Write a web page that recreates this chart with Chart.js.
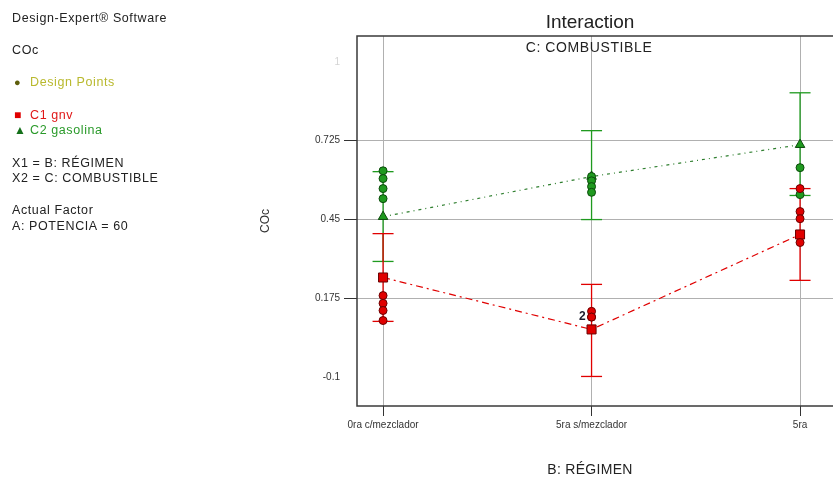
<!DOCTYPE html>
<html lang="es">
<head>
<meta charset="utf-8">
<title>Interaction</title>
<script src="https://cdn.jsdelivr.net/npm/chart.js@4.4.0/dist/chart.umd.min.js"></script>
<style>
  body { margin: 0; background: #fff; font-family: "Liberation Sans", Arial, sans-serif; }
  #marco { position: relative; width: 833px; height: 483px; overflow: hidden; }
  #grafico { position: absolute; left: 0; top: 0; }
  .txt { position: absolute; white-space: nowrap; font-size: 12.5px; letter-spacing: 0.6px; color: #222; line-height: 14px; }
  .centro { transform: translateX(-50%); }
  .sim { display: inline-block; width: 16px; letter-spacing: 0; }
</style>
</head>
<body>
<div id="marco">
  <canvas id="grafico" width="860" height="483"></canvas>

  <!-- Bloque de texto de Design-Expert -->
  <div class="txt" style="left:12px; top:11px;">Design-Expert® Software</div>
  <div class="txt" style="left:12px; top:43px;">COc</div>
  <div class="txt" style="left:14px; top:75px; color:#b9b92e;"><span class="sim" style="color:#5e5e0c; font-size:11px;">●</span>Design Points</div>
  <div class="txt" style="left:14px; top:108px; color:#e01818;"><span class="sim" style="color:#e00000; font-size:12px;">■</span>C1 gnv</div>
  <div class="txt" style="left:14px; top:123px; color:#2a9a2a;"><span class="sim" style="color:#14701a; font-size:12px;">▲</span>C2 gasolina</div>
  <div class="txt" style="left:12px; top:156px;">X1 = B: RÉGIMEN</div>
  <div class="txt" style="left:12px; top:171px;">X2 = C: COMBUSTIBLE</div>
  <div class="txt" style="left:12px; top:203px;">Actual Factor</div>
  <div class="txt" style="left:12px; top:219px;">A: POTENCIA = 60</div>

  <!-- Títulos centrados sobre el gráfico -->
  <div class="txt centro" style="left:590px; top:10px; font-size:19px; line-height:24px; letter-spacing:0;">Interaction</div>
  <div class="txt centro" style="left:589px; top:39px; font-size:14px; line-height:16px; letter-spacing:0.6px;">C: COMBUSTIBLE</div>
  <div class="txt centro" style="left:590px; top:461px; font-size:14px; line-height:16px; letter-spacing:0.3px;">B: RÉGIMEN</div>
</div>

<script>
// Categorías del eje X (B: RÉGIMEN)
const regimen = ['0ra c/mezclador', '5ra s/mezclador', '5ra'];

// Medias predichas por combustible
const gnvMedia = [0.248, 0.067, 0.398];
const gasolinaMedia = [0.46, 0.60, 0.711];

// Barras LSD (límite inferior / superior)
const gnvLsdBajo = [0.095, -0.097, 0.238];
const gnvLsdAlto = [0.401, 0.224, 0.558];
const gasolinaLsdBajo = [0.304, 0.45, 0.534];
const gasolinaLsdAlto = [0.617, 0.76, 0.892];

// Puntos de diseño observados por categoría
const gnvPuntos = [[0.185, 0.158, 0.133, 0.098], [0.13, 0.11, 0.11], [0.558, 0.478, 0.453, 0.37]];
const gasolinaPuntos = [[0.62, 0.593, 0.558, 0.523], [0.60, 0.585, 0.565, 0.545], [0.631, 0.537]];

// Marcas del eje Y
const yTicks = [-0.1, 0.175, 0.45, 0.725, 1];
const yConRejilla = [0.175, 0.45, 0.725];

const ROJO = '#e00000';
const VERDE = '#1f9a1f';

// Convierte medias en puntos {x, y}
function serie(valores) { return valores.map((v, i) => ({ x: i, y: v })); }

// Puntos de diseño aplanados
function puntos(listas) {
    const out = [];
    listas.forEach((lista, i) => lista.forEach(v => out.push({ x: i, y: v })));
    return out;
}

// Segmentos verticales de las barras LSD, separados por huecos
function barras(bajo, alto) {
    const out = [];
    bajo.forEach((b, i) => { out.push({ x: i, y: b }, { x: i, y: alto[i] }, { x: i, y: null }); });
    return out;
}

// Marco del área de trazado
const pluginMarco = {
    id: 'marco',
    beforeDatasetsDraw(chart) {
        const a = chart.chartArea, ctx = chart.ctx;
        ctx.save();
        ctx.strokeStyle = '#3a3a3a';
        ctx.lineWidth = 1.5;
        ctx.strokeRect(a.left, a.top, a.right - a.left, a.bottom - a.top);
        ctx.restore();
    }
};

// Etiqueta con el número de puntos repetidos (p. ej. "2")
const pluginRepetidos = {
    id: 'repetidos',
    afterDatasetsDraw(chart) {
        const ctx = chart.ctx, sx = chart.scales.x, sy = chart.scales.y;
        ctx.save();
        ctx.font = 'bold 12px "Liberation Sans", Arial, sans-serif';
        ctx.fillStyle = '#1c1c2c';
        ctx.textAlign = 'right';
        ctx.textBaseline = 'middle';
        [gnvPuntos, gasolinaPuntos].forEach(listas => listas.forEach((lista, i) => {
            const vistos = {};
            lista.forEach(v => { vistos[v] = (vistos[v] || 0) + 1; });
            Object.keys(vistos).forEach(k => {
                if (vistos[k] > 1) ctx.fillText(String(vistos[k]), sx.getPixelForValue(i) - 6, sy.getPixelForValue(Number(k)));
            });
        }));
        ctx.restore();
    }
};

const fuenteEje = { family: '"Liberation Sans", Arial, sans-serif', size: 10 };

document.addEventListener('DOMContentLoaded', function () {
    const ctx = document.getElementById('grafico');
    new Chart(ctx, {
        type: 'line',
        data: {
            datasets: [
                // Puntos de diseño (encima de todo)
                { data: puntos(gnvPuntos), showLine: false, pointStyle: 'circle', pointRadius: 4, backgroundColor: ROJO, borderColor: '#6a0000', borderWidth: 1, order: 1 },
                { data: puntos(gasolinaPuntos), showLine: false, pointStyle: 'circle', pointRadius: 4, backgroundColor: VERDE, borderColor: '#0b4a0b', borderWidth: 1, order: 1 },
                // Medias unidas por líneas discontinuas
                { data: serie(gnvMedia), borderColor: ROJO, borderWidth: 1.2, borderDash: [7, 4, 2, 4], pointStyle: 'rect', pointRadius: 6.4, pointBackgroundColor: ROJO, pointBorderColor: '#6a0000', pointBorderWidth: 1, order: 2 },
                { data: serie(gasolinaMedia), borderColor: '#2f7f2f', borderWidth: 1.2, borderDash: [3, 4, 1, 4], pointStyle: 'triangle', pointRadius: 5.5, pointBackgroundColor: VERDE, pointBorderColor: '#0b4a0b', pointBorderWidth: 1, order: 2 },
                // Barras LSD con remates horizontales
                { data: barras(gnvLsdBajo, gnvLsdAlto), borderColor: ROJO, borderWidth: 1.3, pointStyle: 'line', pointRadius: 10.5, pointBorderColor: ROJO, pointBorderWidth: 1.3, order: 3 },
                { data: barras(gasolinaLsdBajo, gasolinaLsdAlto), borderColor: VERDE, borderWidth: 1.3, pointStyle: 'line', pointRadius: 10.5, pointBorderColor: VERDE, pointBorderWidth: 1.3, order: 3 }
            ]
        },
        options: {
            responsive: false,
            animation: false,
            devicePixelRatio: 1,
            layout: { padding: { left: 254, top: 36, right: 17, bottom: 0 } },
            plugins: { legend: { display: false }, tooltip: { enabled: false } },
            scales: {
                x: {
                    type: 'linear', min: -0.125, max: 2.206,
                    afterBuildTicks: axis => { axis.ticks = regimen.map((c, i) => ({ value: i })); },
                    afterFit: scale => { scale.height = 77; },
                    ticks: { callback: v => regimen[v], color: '#333', font: fuenteEje, padding: 3, maxRotation: 0 },
                    grid: { color: '#b0b0b0', lineWidth: 1, tickColor: '#333', tickLength: 10 },
                    border: { display: false }
                },
                y: {
                    type: 'linear', min: -0.2, max: 1.09,
                    afterBuildTicks: axis => { axis.ticks = yTicks.map(v => ({ value: v })); },
                    afterFit: scale => { scale.width = 103; },
                    ticks: {
                        callback: v => String(v),
                        color: c => (c.tick && c.tick.value === 1) ? '#d4d4d4' : '#333',
                        font: fuenteEje, padding: 4
                    },
                    grid: {
                        color: c => (c.tick && yConRejilla.includes(c.tick.value)) ? '#b0b0b0' : 'rgba(0,0,0,0)',
                        tickColor: c => (c.tick && yConRejilla.includes(c.tick.value)) ? '#333' : 'rgba(0,0,0,0)',
                        lineWidth: 1, tickLength: 13
                    },
                    border: { display: false },
                    title: { display: true, text: 'COc', color: '#333', font: { family: '"Liberation Sans", Arial, sans-serif', size: 12 }, padding: { top: 4, bottom: 4 } }
                }
            }
        },
        plugins: [pluginMarco, pluginRepetidos]
    });
});
</script>
</body>
</html>
